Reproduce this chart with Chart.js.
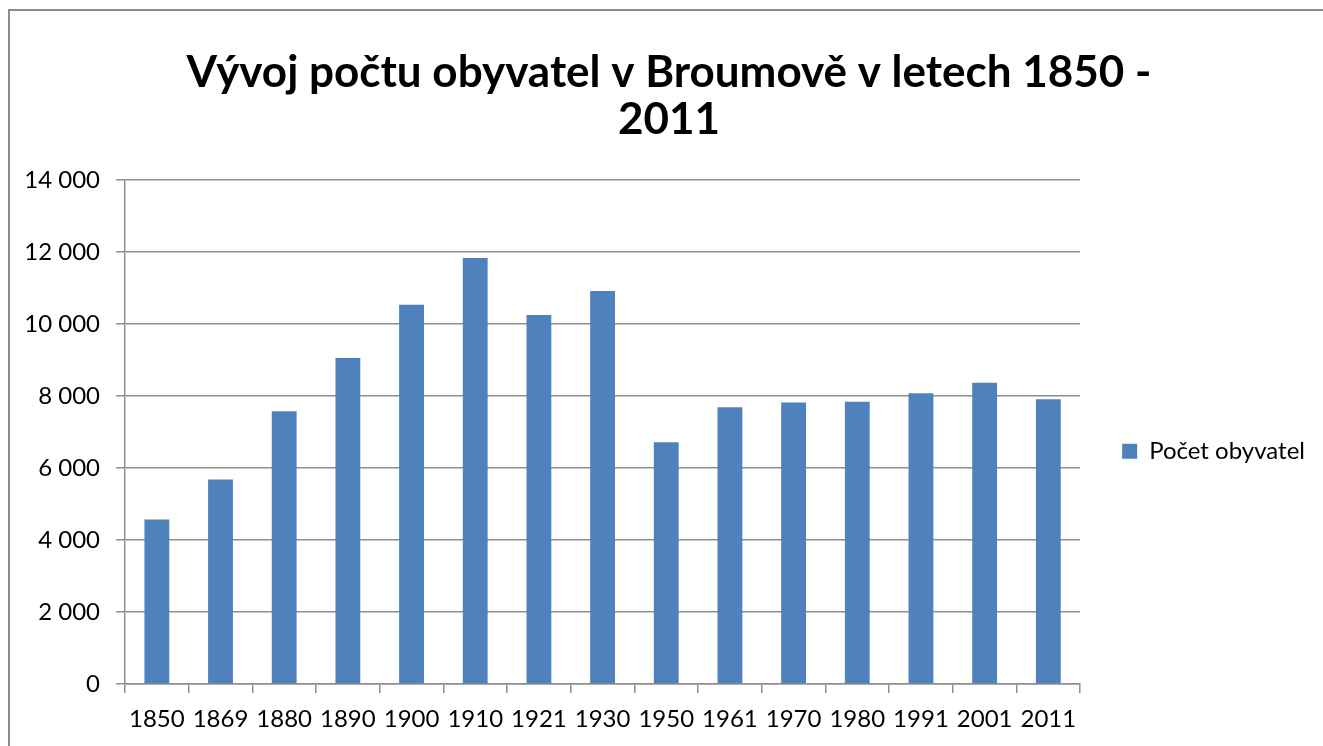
<!DOCTYPE html>
<html lang="cs">
<head>
  <meta charset="utf-8">
  <title>Vývoj počtu obyvatel v Broumově</title>
  <style type="text/css">
    body { margin: 0; background: #fff; }
    /* frame of the chart, only left and top edge are visible */
    .frame {
      position: absolute;
      left: 8px;
      top: 9px;
      width: 1400px;
      height: 800px;
      border-left: 2px solid #8a8a8a;
      border-top: 2px solid #8a8a8a;
    }
    .wrap { position: absolute; left: 0; top: 0; width: 1323px; height: 746px; }
  </style>
</head>
<body>
  <div class="frame"></div>
  <div class="wrap">
    <canvas id="chart" width="1323" height="746"></canvas>
  </div>

  <script src="https://cdn.jsdelivr.net/npm/chart.js"></script>
  <script>
    // data
    const years = ["1850", "1869", "1880", "1890", "1900", "1910", "1921", "1930",
                   "1950", "1961", "1970", "1980", "1991", "2001", "2011"];
    const population = [4570, 5680, 7580, 9060, 10540, 11840, 10250, 10920,
                        6720, 7690, 7820, 7840, 8080, 8370, 7910];
    const seriesName = "Počet obyvatel";
    const titleLines = ["Vývoj počtu obyvatel v Broumově v letech 1850 -", "2011"];

    const gridGray = "#8e8e8e";

    // 14000 -> "14 000"
    function fmt(v) {
      return String(v).replace(/\B(?=(\d{3})+(?!\d))/g, " ");
    }

    const ctx = document.getElementById("chart").getContext("2d");
    const chart = new Chart(ctx, {
      type: "bar",
      data: {
        labels: years,
        datasets: [{
          label: seriesName,
          data: population,
          backgroundColor: "#4f81bd",
          borderWidth: 0,
          barPercentage: 0.39,
          categoryPercentage: 1.0
        }]
      },
      options: {
        responsive: false,
        animation: false,
        devicePixelRatio: 1,
        layout: { padding: { left: 23, right: 8, top: 0, bottom: 0 } },
        plugins: {
          title: {
            display: true,
            text: titleLines,
            color: "#000",
            font: { family: "Lato", size: 44, weight: "bold", lineHeight: 1.07 },
            padding: { top: 49, bottom: 37 }
          },
          legend: {
            position: "right",
            fullSize: false,
            // empty title only pushes the item a bit lower, like the original
            title: { display: true, text: "", font: { size: 12, lineHeight: 1.2 }, padding: 12 },
            labels: {
              boxWidth: 15,
              boxHeight: 15,
              padding: 42,
              color: "#000",
              font: { family: "Lato", size: 24 }
            }
          },
          tooltip: { enabled: false }
        },
        scales: {
          x: {
            offset: true,
            grid: {
              display: true,
              offset: true,
              drawOnChartArea: false,
              drawTicks: true,
              tickLength: 9,
              color: gridGray,
              lineWidth: 1.5
            },
            border: { display: true, color: gridGray, width: 1.5 },
            ticks: {
              color: "#000",
              padding: 12,
              maxRotation: 0,
              autoSkip: false,
              font: { family: "Lato", size: 24 }
            },
            afterFit: function(scale) { scale.height = 62; }
          },
          y: {
            min: 0,
            max: 14000,
            grid: {
              color: gridGray,
              lineWidth: 1.5,
              drawTicks: true,
              tickLength: 9
            },
            border: { display: true, color: gridGray, width: 1.5 },
            ticks: {
              stepSize: 2000,
              color: "#000",
              padding: 16,
              font: { family: "Lato", size: 24 },
              callback: function(v) { return fmt(v); }
            },
            afterFit: function(scale) { scale.width = 102; }
          }
        }
      }
    });
  </script>
</body>
</html>
